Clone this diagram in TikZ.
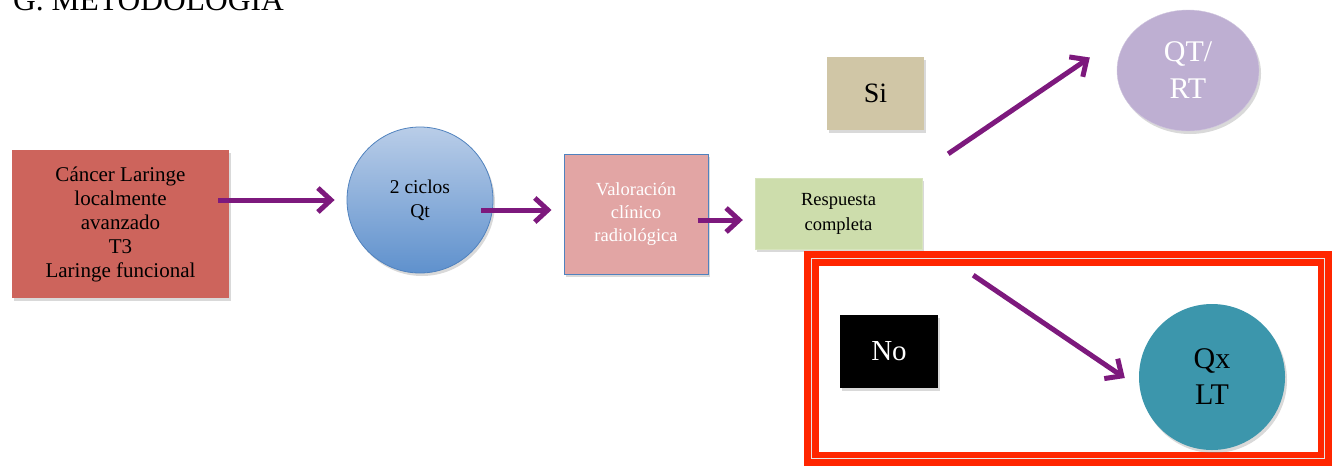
\documentclass[tikz,border=0pt]{standalone}
\usepackage{fontspec}
\setmainfont{Liberation Serif}
\usetikzlibrary{arrows.meta,positioning,calc,shadows,shapes.geometric}
\definecolor{flowpurple}{RGB}{125,25,125}
\definecolor{cancercolor}{RGB}{205,100,92}
\definecolor{qtblue}{RGB}{80,130,190}
\definecolor{valorcolor}{RGB}{226,165,164}
\definecolor{respcolor}{RGB}{205,221,172}
\definecolor{sicolor}{RGB}{208,198,166}
\definecolor{qtrtcolor}{RGB}{190,175,210}
\definecolor{qxcolor}{RGB}{60,150,172}
\definecolor{framered}{RGB}{255,38,0}

\tikzset{
  box/.style={inner sep=0pt, align=center,
    drop shadow={opacity=0.3, shadow xshift=2pt, shadow yshift=-3pt}},
  flow/.style={line width=5pt, draw=flowpurple,
    -{Straight Barb[length=13pt,width=24pt]}},
}

\begin{document}
\begin{tikzpicture}[x=1pt,y=-1pt]
\useasboundingbox (0,0) rectangle (1338,466);
% title
\node[anchor=base west, inner sep=0pt, font=\fontsize{31.5}{36}\selectfont] (title) at (13,10) {G. METODOLOGIA};
% main flow
\node[box, fill=cancercolor, minimum width=217pt, minimum height=148pt,
  font=\fontsize{21}{24}\selectfont] (cancer) at (120.5,224)
  {Cáncer Laringe\\localmente\\avanzado\\T3\\Laringe funcional};
\node[circle, draw=qtblue, line width=0.8pt, top color={rgb,255:red,185;green,205;blue,232},
  bottom color={rgb,255:red,95;green,145;blue,205}, minimum size=146pt, inner sep=0pt,
  align=center, font=\fontsize{19.5}{24}\selectfont,
  drop shadow={opacity=0.3, shadow xshift=2pt, shadow yshift=-3pt}] (qt) at (420,200)
  {2 ciclos\\Qt};
\node[box, fill=valorcolor, draw=qtblue, line width=1pt, minimum width=144pt, minimum height=120pt,
  text=white, font=\fontsize{18.5}{23}\selectfont] (valor) at (636,214)
  {Valoración\\clínico\\radiológica};
\node[box, fill=respcolor, draw=respcolor!80!white, minimum width=167pt, minimum height=71pt,
  font=\fontsize{18.5}{25}\selectfont] (resp) at (838.5,213.5)
  {Respuesta\\completa};
% answers
\node[box, fill=sicolor, minimum width=97pt, minimum height=73pt,
  font=\fontsize{28}{30}\selectfont] (si) at (875.5,93.5) {Si};
\node[ellipse, fill=qtrtcolor, draw=qtrtcolor!70!white, minimum width=142pt, minimum height=121pt,
  inner sep=0pt, align=center, text=white, font=\fontsize{30}{37}\selectfont,
  drop shadow={opacity=0.3, shadow xshift=2pt, shadow yshift=-3pt}] (qtrt) at (1188,70.5)
  {QT/\\RT};
\node[draw=framered, line width=14.5pt, minimum width=513.5pt, minimum height=200.5pt,
  inner sep=0pt] (noframe) at (1068.25,358.75) {};
\draw[gray!20, line width=0.6pt] ($(noframe.north west)+(7.5,7.5)$) rectangle ($(noframe.south east)+(-7.5,-7.5)$);
\node[box, fill=black, minimum width=98pt, minimum height=73pt, text=white,
  font=\fontsize{29}{32}\selectfont] (no) at (889,351.5) {No};
\node[circle, fill=qxcolor, minimum size=146pt, inner sep=0pt, align=center,
  font=\fontsize{30}{36}\selectfont,
  drop shadow={opacity=0.3, shadow xshift=2pt, shadow yshift=-3pt}] (qxlt) at (1212,377)
  {Qx\\LT};
% connectors
\draw[flow, shorten <=-11pt, shorten >=12pt] (cancer.east |- qt.west) -- (qt.west);
\draw[flow, shorten <=-12pt, shorten >=12pt] ($(qt.east)+(0,10)$) -- ($(valor.west)+(0,-4)$);
\draw[flow, shorten <=-11pt, shorten >=12pt] ($(valor.east)+(0,6)$) -- ($(resp.west)+(0,6.5)$);
\draw[flow] ($(resp.north east)+(26,-24)$) -- ($(qtrt.west)+(-27,-13)$);
\draw[flow] ($(resp.south east)+(51,26)$) -- ($(qxlt.west)+(-14,1)$);
\end{tikzpicture}
\end{document}
